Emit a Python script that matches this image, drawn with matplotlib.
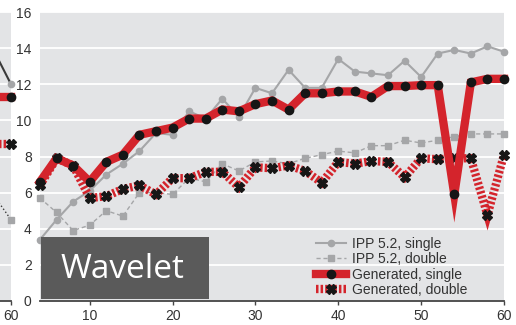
import matplotlib
matplotlib.use("Agg")
import matplotlib.pyplot as plt
from matplotlib.patches import Rectangle

# x positions (even sizes 4..60)
sizes = list(range(4, 61, 2))

ipp_single = [3.4, 4.5, 5.5, 6.1, 7.0, 7.6, 8.3, 9.3, 9.2, 10.5, 10.1, 11.2, 10.2, 11.8, 11.5,
              12.8, 11.8, 11.8, 13.4, 12.7, 12.6, 12.5, 13.3, 12.4, 13.7, 13.9, 13.7, 14.1, 13.8]
ipp_double = [5.7, 4.9, 3.9, 4.2, 5.0, 4.7, 6.0, 6.0, 5.9, 6.8, 6.6, 7.6, 7.2, 7.7, 7.75,
              7.6, 7.9, 8.1, 8.3, 8.2, 8.6, 8.6, 8.9, 8.75, 8.9, 9.1, 9.25, 9.25, 9.25]
gen_single = [6.6, 7.9, 7.5, 6.6, 7.7, 8.1, 9.2, 9.4, 9.6, 10.1, 10.1, 10.6, 10.5, 10.9, 11.1,
              10.6, 11.5, 11.5, 11.6, 11.6, 11.3, 11.9, 11.9, 11.95, 11.95, 5.9, 12.1, 12.3, 12.3]
gen_double = [6.4, 7.9, 7.5, 5.7, 5.8, 6.2, 6.4, 5.9, 6.8, 6.8, 7.15, 7.15, 6.3, 7.4, 7.35,
              7.5, 7.2, 6.55, 7.7, 7.6, 7.75, 7.7, 6.85, 7.9, 7.85, 7.9, 7.9, 4.75, 8.1]

# tail of the neighbouring panel (cut off at the left edge)
prev_sizes = [58, 60]
prev_ipp_single = [13.8, 12.0]
prev_ipp_double = [5.8, 4.5]
prev_gen_single = [11.3, 11.3]
prev_gen_double = [8.7, 8.7]

labels = ["IPP 5.2, single", "IPP 5.2, double", "Generated, single", "Generated, double"]
yticks = list(range(0, 17, 2))
xticks = [10, 20, 30, 40, 50, 60]

RED = "#d4242c"
GRAY = "#a5a6a8"
BG = "#e3e4e6"

plt.rcParams['font.family'] = ['Liberation Sans', 'DejaVu Sans']

fig = plt.figure(figsize=(5.16, 3.25), dpi=100)

W, H = 516.0, 325.0
px_per_unit = (504 - 40) / 56.0


def style_axes(ax, xt):
    ax.set_facecolor(BG)
    ax.set_xlim(4, 60)
    ax.set_ylim(0, 16)
    ax.set_yticks(yticks)
    ax.set_xticks(xt)
    ax.grid(axis='y', color='white', lw=1.3)
    ax.set_axisbelow(True)
    for s in ['top', 'right', 'left']:
        ax.spines[s].set_visible(False)
    ax.spines['bottom'].set_color('#444444')
    ax.spines['bottom'].set_linewidth(1.3)
    ax.tick_params(axis='y', length=0, pad=6, labelsize=10, labelcolor='#333333')
    ax.tick_params(axis='x', length=3, width=1, color='#444444', pad=3,
                   labelsize=10, labelcolor='#333333')


def draw(ax, x, s1, s2, g1, g2):
    ax.plot(x, s1, color=GRAY, lw=1.5, marker='o', ms=4.5, mfc=GRAY, mec=GRAY,
            clip_on=False, zorder=3, label=labels[0])
    ax.plot(x, s2, color=GRAY, lw=1.0, ls=(0, (3, 2)), marker='s', ms=4.5, mfc=GRAY,
            mec=GRAY, clip_on=False, zorder=3, label=labels[1])
    ax.plot(x, g1, color=RED, lw=6, marker='o', ms=6, mfc='#161616', mec='#161616',
            solid_joinstyle='miter', clip_on=False, zorder=5, label=labels[2])
    ax.plot(x, g2, color=RED, lw=6, ls=(0, (0.3, 0.25)), marker='X', ms=6.5,
            mfc='#161616', mec='#161616', dash_joinstyle='miter', dash_capstyle='butt',
            clip_on=False, zorder=4, label=labels[3])


# neighbour panel, only its right end is visible
right_px = 11
left_px = right_px - 56 * px_per_unit
ax0 = fig.add_axes([left_px / W, 24 / H, (right_px - left_px) / W, 289 / H])
style_axes(ax0, [60])
ax0.set_yticklabels([])
draw(ax0, prev_sizes, prev_ipp_single, prev_ipp_double, prev_gen_single, prev_gen_double)
ax0.lines[0].set_color('#3a3a3a')
ax0.lines[1].set_color('#3a3a3a')
ax0.lines[1].set_linestyle(':')

# main panel
ax = fig.add_axes([40 / W, 24 / H, 464 / W, 289 / H])
style_axes(ax, xticks)
draw(ax, sizes, ipp_single, ipp_double, gen_single, gen_double)

leg = ax.legend(loc='lower right', bbox_to_anchor=(0.94, -0.015), frameon=False,
                fontsize=10, handlelength=2.1, handletextpad=0.5, labelspacing=0.1,
                borderaxespad=0.2, labelcolor='#333333')

# "Wavelet" tag
fig.patches.append(Rectangle((41 / W, 26 / H), 168 / W, 62 / H, transform=fig.transFigure,
                             facecolor='#5a5a5a', edgecolor='none', zorder=10))
fig.text(61 / W, 56 / H, "Wavelet", color='white', fontsize=24, family='Open Sans',
         va='center', ha='left', zorder=11)

fig.savefig("out.png", dpi=100)
